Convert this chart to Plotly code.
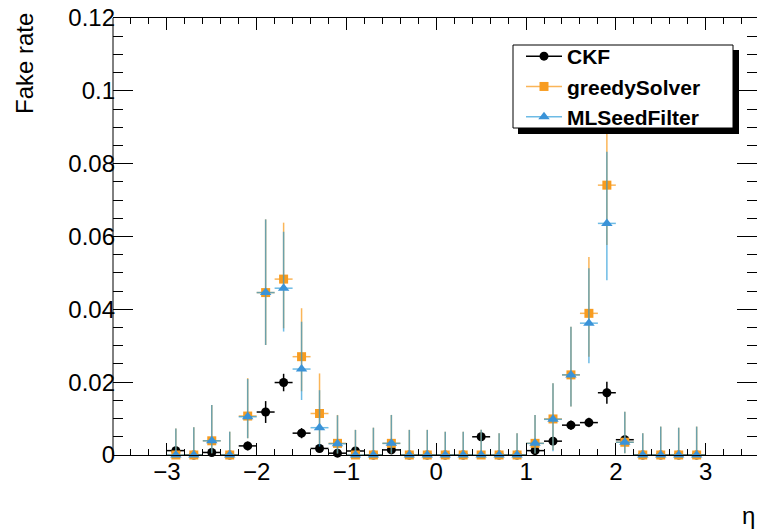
import plotly.graph_objects as go

# ---------------- data ----------------
eta = [-2.9, -2.7, -2.5, -2.3, -2.1, -1.9, -1.7, -1.5, -1.3, -1.1,
       -0.9, -0.7, -0.5, -0.3, -0.1, 0.1, 0.3, 0.5, 0.7, 0.9,
       1.1, 1.3, 1.5, 1.7, 1.9, 2.1, 2.3, 2.5, 2.7, 2.9]
eta_halfwidth = [0.1, 0.1, 0.1, 0.1, 0.1, 0.1, 0.1, 0.1, 0.1, 0.1,
                 0.1, 0.1, 0.1, 0.1, 0.1, 0.1, 0.1, 0.1, 0.1, 0.1,
                 0.1, 0.1, 0.1, 0.1, 0.1, 0.1, 0.1, 0.1, 0.1, 0.1]

ckf_rate = [0.0012, 0.0, 0.0007, 0.0, 0.0025, 0.0118, 0.0199, 0.0060, 0.0018, 0.0005,
            0.0011, 0.0, 0.0014, 0.0, 0.0, 0.0, 0.0, 0.0050, 0.0, 0.0,
            0.0012, 0.0038, 0.0082, 0.0089, 0.0171, 0.0042, 0.0, 0.0, 0.0, 0.0]
ckf_err = [0.0008, 0.0, 0.0007, 0.0, 0.0012, 0.0030, 0.0024, 0.0014, 0.0010, 0.0005,
           0.0008, 0.0, 0.0009, 0.0, 0.0, 0.0, 0.0, 0.0010, 0.0, 0.0,
           0.0008, 0.0010, 0.0013, 0.0013, 0.0030, 0.0012, 0.0, 0.0, 0.0, 0.0]

greedy_rate = [0.0, 0.0, 0.0039, 0.0, 0.0107, 0.0446, 0.0483, 0.0270, 0.0114, 0.0032,
               0.0, 0.0, 0.0032, 0.0, 0.0, 0.0, 0.0, 0.0, 0.0, 0.0,
               0.0032, 0.0099, 0.0220, 0.0389, 0.0741, 0.0035, 0.0, 0.0, 0.0, 0.0]
greedy_err_up = [0.0073, 0.0076, 0.0098, 0.0064, 0.0104, 0.0201, 0.0155, 0.0133, 0.0110, 0.0078,
                 0.0069, 0.0075, 0.0078, 0.0069, 0.0069, 0.0064, 0.0064, 0.0069, 0.0060, 0.0060,
                 0.0078, 0.0098, 0.0132, 0.0155, 0.0240, 0.0084, 0.0060, 0.0078, 0.0075, 0.0078]
greedy_err_dn = [0.0, 0.0, 0.0034, 0.0, 0.0061, 0.0144, 0.0135, 0.0095, 0.0084, 0.0028,
                 0.0, 0.0, 0.0028, 0.0, 0.0, 0.0, 0.0, 0.0, 0.0, 0.0,
                 0.0028, 0.0085, 0.0087, 0.0119, 0.0164, 0.0030, 0.0, 0.0, 0.0, 0.0]

ml_rate = [0.0, 0.0, 0.0039, 0.0, 0.0105, 0.0446, 0.0458, 0.0236, 0.0075, 0.0031,
           0.0, 0.0, 0.0032, 0.0, 0.0, 0.0, 0.0, 0.0, 0.0, 0.0,
           0.0032, 0.0098, 0.0220, 0.0362, 0.0636, 0.0035, 0.0, 0.0, 0.0, 0.0]
ml_err_up = [0.0073, 0.0076, 0.0098, 0.0064, 0.0104, 0.0201, 0.0155, 0.0130, 0.0103, 0.0078,
             0.0069, 0.0075, 0.0078, 0.0069, 0.0069, 0.0064, 0.0064, 0.0069, 0.0060, 0.0060,
             0.0078, 0.0099, 0.0132, 0.0151, 0.0197, 0.0084, 0.0060, 0.0078, 0.0075, 0.0078]
ml_err_dn = [0.0, 0.0, 0.0034, 0.0, 0.0059, 0.0144, 0.0119, 0.0085, 0.0052, 0.0027,
             0.0, 0.0, 0.0028, 0.0, 0.0, 0.0, 0.0, 0.0, 0.0, 0.0,
             0.0028, 0.0088, 0.0087, 0.0110, 0.0156, 0.0030, 0.0, 0.0, 0.0, 0.0]

series_names = ["CKF", "greedySolver", "MLSeedFilter"]
x_title = "η"
y_title = "Fake rate"

# ---------------- style ----------------
FONT = "Liberation Sans, Arial, Helvetica, sans-serif"
BLACK = "#000000"
ORANGE = "#f89c20"
BLUE = "#3a93d8"
ORANGE_ERR = "rgba(248,156,32,0.75)"
BLUE_ERR = "rgba(30,150,215,0.65)"

W, H = 757, 530
L, R, T, B = 113, 0, 18, 75
PW, PH = W - L - R, H - T - B


def px_x(p):
    return (p - L) / PW


def px_y(p):
    return (H - B - p) / PH


fig = go.Figure()

fig.add_trace(go.Scatter(
    x=eta, y=ckf_rate, mode="markers", showlegend=False, cliponaxis=False,
    marker=dict(symbol="circle", size=9, color=BLACK),
    error_y=dict(type="data", array=ckf_err, arrayminus=ckf_err,
                 color=BLACK, thickness=1.5, width=0),
    error_x=dict(type="data", array=eta_halfwidth, color=BLACK, thickness=1.5, width=0),
))
fig.add_trace(go.Scatter(
    x=eta, y=greedy_rate, mode="markers", showlegend=False, cliponaxis=False,
    marker=dict(symbol="square", size=9, color=ORANGE),
    error_y=dict(type="data", array=greedy_err_up, arrayminus=greedy_err_dn,
                 color=ORANGE_ERR, thickness=1.5, width=0),
    error_x=dict(type="data", array=eta_halfwidth, color=ORANGE_ERR, thickness=1.5, width=0),
))
fig.add_trace(go.Scatter(
    x=eta, y=ml_rate, mode="markers", showlegend=False, cliponaxis=False,
    marker=dict(symbol="triangle-up", size=10, color=BLUE),
    error_y=dict(type="data", array=ml_err_up, arrayminus=ml_err_dn,
                 color=BLUE_ERR, thickness=1.5, width=0),
    error_x=dict(type="data", array=eta_halfwidth, color=BLUE_ERR, thickness=1.5, width=0),
))

# legend entries
for name, sym, col, lcol, sz in [
    (series_names[0], "circle", BLACK, BLACK, 9),
    (series_names[1], "square", ORANGE, ORANGE_ERR, 9),
    (series_names[2], "triangle-up", BLUE, BLUE_ERR, 10),
]:
    fig.add_trace(go.Scatter(
        x=[None], y=[None], mode="lines+markers", name=name,
        marker=dict(symbol=sym, size=sz, color=col),
        line=dict(color=lcol, width=1.5),
    ))

shapes = [
    # left frame line
    dict(type="line", xref="paper", yref="paper", x0=0, x1=0, y0=0, y1=1,
         line=dict(color=BLACK, width=1)),
    # legend shadow
    dict(type="rect", xref="paper", yref="paper",
         x0=px_x(518), x1=px_x(739), y0=px_y(134), y1=px_y(50),
         fillcolor=BLACK, line=dict(width=0), layer="above"),
    # legend box
    dict(type="rect", xref="paper", yref="paper",
         x0=px_x(513), x1=px_x(733), y0=px_y(128), y1=px_y(45),
         fillcolor="white", line=dict(color=BLACK, width=1), layer="above"),
]

annotations = [
    dict(text=y_title, xref="paper", yref="paper", x=px_x(24), y=px_y(64),
         xanchor="center", yanchor="middle", textangle=-90, showarrow=False,
         font=dict(family=FONT, size=24, color=BLACK)),
    dict(text=x_title, xref="paper", yref="paper", x=px_x(757), y=px_y(515),
         xanchor="right", yanchor="middle", showarrow=False,
         font=dict(family=FONT, size=24, color=BLACK)),
]

fig.update_layout(
    width=W, height=H,
    margin=dict(l=L, r=R, t=T, b=B, pad=0),
    paper_bgcolor="white", plot_bgcolor="white",
    font=dict(family=FONT, size=24, color=BLACK),
    shapes=shapes,
    annotations=annotations,
    legend=dict(
        x=px_x(521), y=px_y(36), xanchor="left", yanchor="top",
        bgcolor="rgba(0,0,0,0)", borderwidth=0,
        font=dict(family=FONT, size=21, color=BLACK, weight="bold"),
        itemwidth=36,
    ),
    xaxis=dict(
        range=[-3.6, 3.572], showgrid=False, zeroline=False,
        showline=True, linecolor=BLACK, linewidth=1, mirror="ticks",
        ticks="inside", ticklen=12, tickwidth=1, tickcolor=BLACK,
        dtick=1, tick0=0, ticklabelstandoff=-5,
        minor=dict(ticks="inside", ticklen=6, dtick=0.2, tick0=0, tickcolor=BLACK, tickwidth=1, showgrid=False),
        tickfont=dict(family=FONT, size=24, color=BLACK),
    ),
    yaxis=dict(
        range=[0, 0.12], showgrid=False, zeroline=False,
        showline=False, mirror="ticks",
        ticks="inside", ticklen=20, tickwidth=1, tickcolor=BLACK,
        dtick=0.02, tick0=0, ticklabelstandoff=-3,
        minor=dict(ticks="inside", ticklen=10, dtick=0.005, tick0=0, tickcolor=BLACK, tickwidth=1, showgrid=False),
        tickfont=dict(family=FONT, size=24, color=BLACK),
    ),
)

fig.write_html("out.html")
